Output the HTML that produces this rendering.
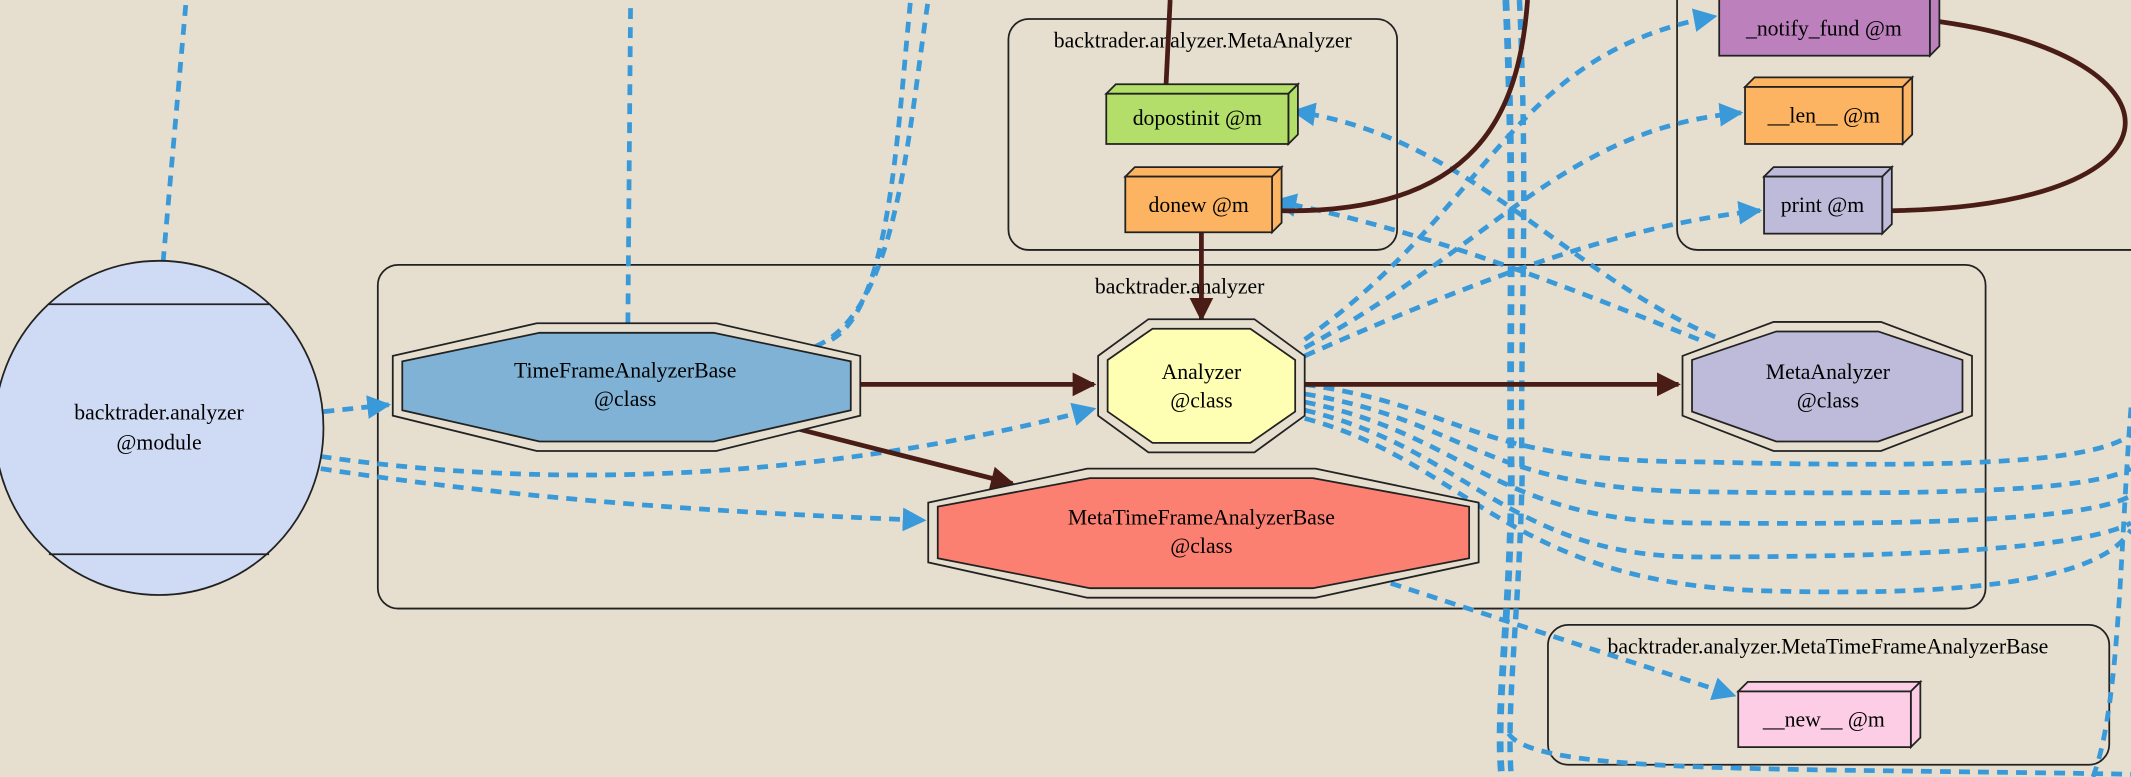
<!DOCTYPE html>
<html><head><meta charset="utf-8"><style>
html,body{margin:0;padding:0;background:#e6dfcf;}
svg{display:block;}
text{font-family:"Liberation Serif",serif;font-size:16px;text-anchor:middle;fill:#000;}
</style></head><body>
<svg width="2131" height="777" viewBox="0 0 1568 572" preserveAspectRatio="none" xmlns="http://www.w3.org/2000/svg">
<defs>
<marker id="ab" markerWidth="5" markerHeight="5" refX="4.5" refY="2.5" orient="auto" markerUnits="strokeWidth"><path d="M0,0 L5,2.5 L0,5z" fill="#3a9ad9"/></marker>
<marker id="ad" markerWidth="5" markerHeight="5" refX="4.5" refY="2.5" orient="auto" markerUnits="strokeWidth"><path d="M0,0 L5,2.5 L0,5z" fill="#4a1c16"/></marker>
</defs>
<rect width="1568" height="572" fill="#e6dfcf"/>
<!-- clusters -->
<g fill="none" stroke="#222" stroke-width="1.3">
<rect x="278" y="195" width="1183" height="253" rx="15"/>
<rect x="742" y="14" width="286" height="170" rx="15"/>
<rect x="1234" y="-20" width="360" height="204" rx="15"/>
<rect x="1139" y="460" width="413" height="103" rx="15"/>
</g>
<text x="868" y="216">backtrader.analyzer</text>
<text x="885" y="35">backtrader.analyzer.MetaAnalyzer</text>
<text x="1345" y="481">backtrader.analyzer.MetaTimeFrameAnalyzerBase</text>
<!-- blue dashed edges -->
<g fill="none" stroke="#3a9ad9" stroke-width="3.5" stroke-dasharray="8,6">
<path d="M120,193 L137,0"/>
<path d="M462,238 L464,0"/>
<path d="M600,255 C660,230 668,100 683,0"/>
<path d="M612,250 C655,225 660,100 670,0"/>
<path d="M238,303 L286,298" marker-end="url(#ab)"/>
<path d="M236,336 C400,360 600,355 805,301" marker-end="url(#ab)"/>
<path d="M236,345 C400,370 550,378 680,383" marker-end="url(#ab)"/>
<path d="M1010,425 L1276,512" marker-end="url(#ab)"/>
<path d="M1262,248 C1150,200 1080,100 952,82" marker-end="url(#ab)"/>
<path d="M1250,250 C1150,210 1050,170 938,148" marker-end="url(#ab)"/>
<path d="M960,250 C1100,150 1110,40 1262,12" marker-end="url(#ab)"/>
<path d="M960,256 C1100,180 1150,95 1281,83" marker-end="url(#ab)"/>
<path d="M960,262 C1100,200 1200,165 1295,155" marker-end="url(#ab)"/>
<path d="M960,283 C1080,300 1080,340 1250,340 C1450,345 1540,340 1568,320"/>
<path d="M960,290 C1080,310 1090,360 1250,362 C1450,365 1540,360 1568,345"/>
<path d="M960,296 C1080,320 1100,385 1250,385 C1450,387 1540,380 1568,365"/>
<path d="M960,302 C1080,330 1110,410 1250,410 C1450,410 1540,400 1568,385"/>
<path d="M960,308 C1080,340 1110,430 1300,435 C1480,440 1550,420 1568,390"/>
<path d="M1108,0 C1115,150 1110,250 1112,350 C1112,450 1100,520 1105,572" stroke-width="5"/>
<path d="M1118,0 C1125,150 1118,250 1120,350 C1118,450 1108,520 1112,572" stroke-width="4"/>
<path d="M1110,540 C1130,570 1300,565 1568,570"/>
<path d="M1568,300 C1560,400 1560,520 1540,572"/>
</g>
<!-- dark edges -->
<g fill="none" stroke="#4a1c16" stroke-width="3.5">
<path d="M633,283 L805,283" marker-end="url(#ad)"/>
<path d="M588,316 L745,356" marker-end="url(#ad)"/>
<path d="M960,283 L1235,283" marker-end="url(#ad)"/>
<path d="M884,171 L884,235" marker-end="url(#ad)"/>
<path d="M858,62 L861,0"/>
<path d="M936,155 C1090,160 1118,80 1124,0"/>
<path d="M1420,15 C1620,40 1620,160 1365,155"/>
</g>
<!-- module ellipse -->
<ellipse cx="117" cy="315" rx="121" ry="123" fill="#cfdbf4" stroke="#222" stroke-width="1.3"/>
<line x1="36" y1="224" x2="198" y2="224" stroke="#222" stroke-width="1.3"/>
<line x1="36" y1="408" x2="198" y2="408" stroke="#222" stroke-width="1.3"/>
<text x="117" y="309">backtrader.analyzer</text>
<text x="117" y="331">@module</text>
<!-- octagons -->
<g stroke="#222" stroke-width="1.3">
<polygon points="289,262 395,238 527,238 633,262 633,306 527,332 395,332 289,306" fill="#e6dfcf"/>
<polygon points="296,266 397,245 525,245 626,266 626,302 525,325 397,325 296,302" fill="#7fb2d5"/>
<polygon points="808,262 845,235 923,235 960,262 960,306 923,333 845,333 808,306" fill="#e6dfcf"/>
<polygon points="815,265 848,242 920,242 953,265 953,303 920,326 848,326 815,303" fill="#ffffb3"/>
<polygon points="1238,262 1305,237 1384,237 1451,262 1451,306 1384,332 1305,332 1238,306" fill="#e6dfcf"/>
<polygon points="1245,265 1307,244 1382,244 1444,265 1444,303 1382,325 1307,325 1245,303" fill="#bebada"/>
<polygon points="683,370 800,345 968,345 1088,370 1088,414 968,440 800,440 683,414" fill="#e6dfcf"/>
<polygon points="690,373 802,352 966,352 1081,373 1081,411 966,433 802,433 690,411" fill="#fb8072"/>
</g>
<text x="460" y="278">TimeFrameAnalyzerBase</text><text x="460" y="299">@class</text>
<text x="884" y="279">Analyzer</text><text x="884" y="300">@class</text>
<text x="1345" y="279">MetaAnalyzer</text><text x="1345" y="300">@class</text>
<text x="884" y="386">MetaTimeFrameAnalyzerBase</text><text x="884" y="407">@class</text>
<!-- 3D boxes -->
<g stroke="#222" stroke-width="1.3">
<g fill="#b3de69"><polygon points="814,69 821,62 955,62 948,69"/><polygon points="948,69 955,62 955,99 948,106"/><rect x="814" y="69" width="134" height="37"/></g>
<g fill="#fdb462"><polygon points="828,130 835,123 943,123 936,130"/><polygon points="936,130 943,123 943,164 936,171"/><rect x="828" y="130" width="108" height="41"/></g>
<g fill="#bc80bd"><polygon points="1420,0 1427,-7 1427,34 1420,41"/><rect x="1265" y="-5" width="155" height="46"/></g>
<g fill="#fdb462"><polygon points="1284,64 1291,57 1407,57 1400,64"/><polygon points="1400,64 1407,57 1407,99 1400,106"/><rect x="1284" y="64" width="116" height="42"/></g>
<g fill="#bebada"><polygon points="1298,130 1305,123 1392,123 1385,130"/><polygon points="1385,130 1392,123 1392,165 1385,172"/><rect x="1298" y="130" width="87" height="42"/></g>
<g fill="#fccde5"><polygon points="1279,509 1286,502 1413,502 1406,509"/><polygon points="1406,509 1413,502 1413,543 1406,550"/><rect x="1279" y="509" width="127" height="41"/></g>
</g>
<text x="881" y="92">dopostinit @m</text>
<text x="882" y="156">donew @m</text>
<text x="1342" y="26">_notify_fund @m</text>
<text x="1342" y="90">__len__ @m</text>
<text x="1341" y="156">print @m</text>
<text x="1342" y="535">__new__ @m</text>
</svg>
</body></html>
